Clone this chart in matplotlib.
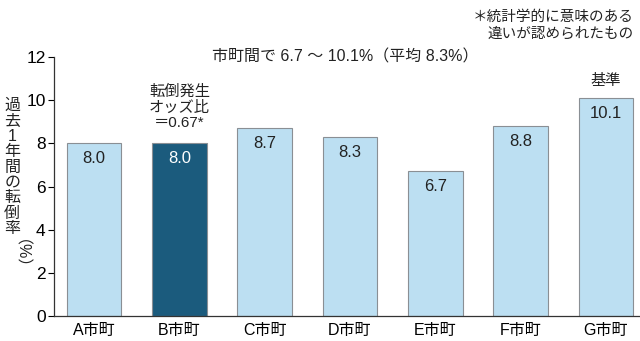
import numpy as np
import matplotlib
matplotlib.use('Agg')
from matplotlib import pyplot as plt

plt.rcParams['font.family'] = ['Liberation Sans', 'Noto Sans CJK JP', 'DejaVu Sans']

towns = ['A市町', 'B市町', 'C市町', 'D市町', 'E市町', 'F市町', 'G市町']
fall_rate = [8.0, 8.0, 8.7, 8.3, 6.7, 8.8, 10.1]
highlight = 'B市町'
yticks = [0, 2, 4, 6, 8, 10, 12]

light = '#bcdff2'
dark = '#1b5b7d'

fig = plt.figure(figsize=(6.4, 3.41), dpi=100)
ax = fig.add_axes([0.0844, 0.0733, 0.9156, 0.7595])

x = np.arange(len(towns))
colors = [dark if t == highlight else light for t in towns]
bars = ax.bar(x, fall_rate, width=0.64, color=colors, edgecolor='#8a8f94', linewidth=0.8, zorder=2)

# value labels inside bars, near the top
for b, v, c in zip(bars, fall_rate, colors):
    ax.text(b.get_x() + b.get_width() / 2, v - 0.72, f'{v:.1f}',
            ha='center', va='center', fontsize=12,
            color='white' if c == dark else '#222222')

ax.set_xlim(-0.47, 6.40)
ax.set_ylim(0, 12)
ax.set_yticks(yticks)
ax.set_xticks(x)
ax.set_xticklabels(towns, fontsize=11.5)
ax.tick_params(axis='x', length=0, pad=5)
ax.tick_params(axis='y', length=4, width=0.8, labelsize=12.5, pad=2, direction='out')
for s in ['top', 'right']:
    ax.spines[s].set_visible(False)
for s in ['left', 'bottom']:
    ax.spines[s].set_linewidth(0.9)
    ax.spines[s].set_color('#333333')

# annotations
ax.text(1, 8.0 + 0.6, '転倒発生\nオッズ比\n＝0.67*', ha='center', va='bottom',
        fontsize=11, linespacing=1.15, color='#222222')
ax.text(6, 10.1 + 0.45, '基準', ha='center', va='bottom', fontsize=11, color='#222222')

fig.text(0.54, 0.833, '市町間で 6.7 ～ 10.1%（平均 8.3%）', ha='center', va='center',
         fontsize=11.5, color='#222222')
fig.text(0.99, 0.97, '＊統計学的に意味のある\n違いが認められたもの', ha='right', va='top',
         fontsize=10.5, linespacing=1.25, color='#222222')

# vertical y-axis label
fig.text(0.019, 0.51, '\n'.join('過去1年間の転倒率'), ha='center', va='center',
         fontsize=11.5, linespacing=1.03, color='#222222')
fig.text(0.019, 0.23, '（%）', ha='center', va='center', rotation=-90,
         fontsize=11.5, color='#222222')

fig.savefig('out.png', dpi=100)
